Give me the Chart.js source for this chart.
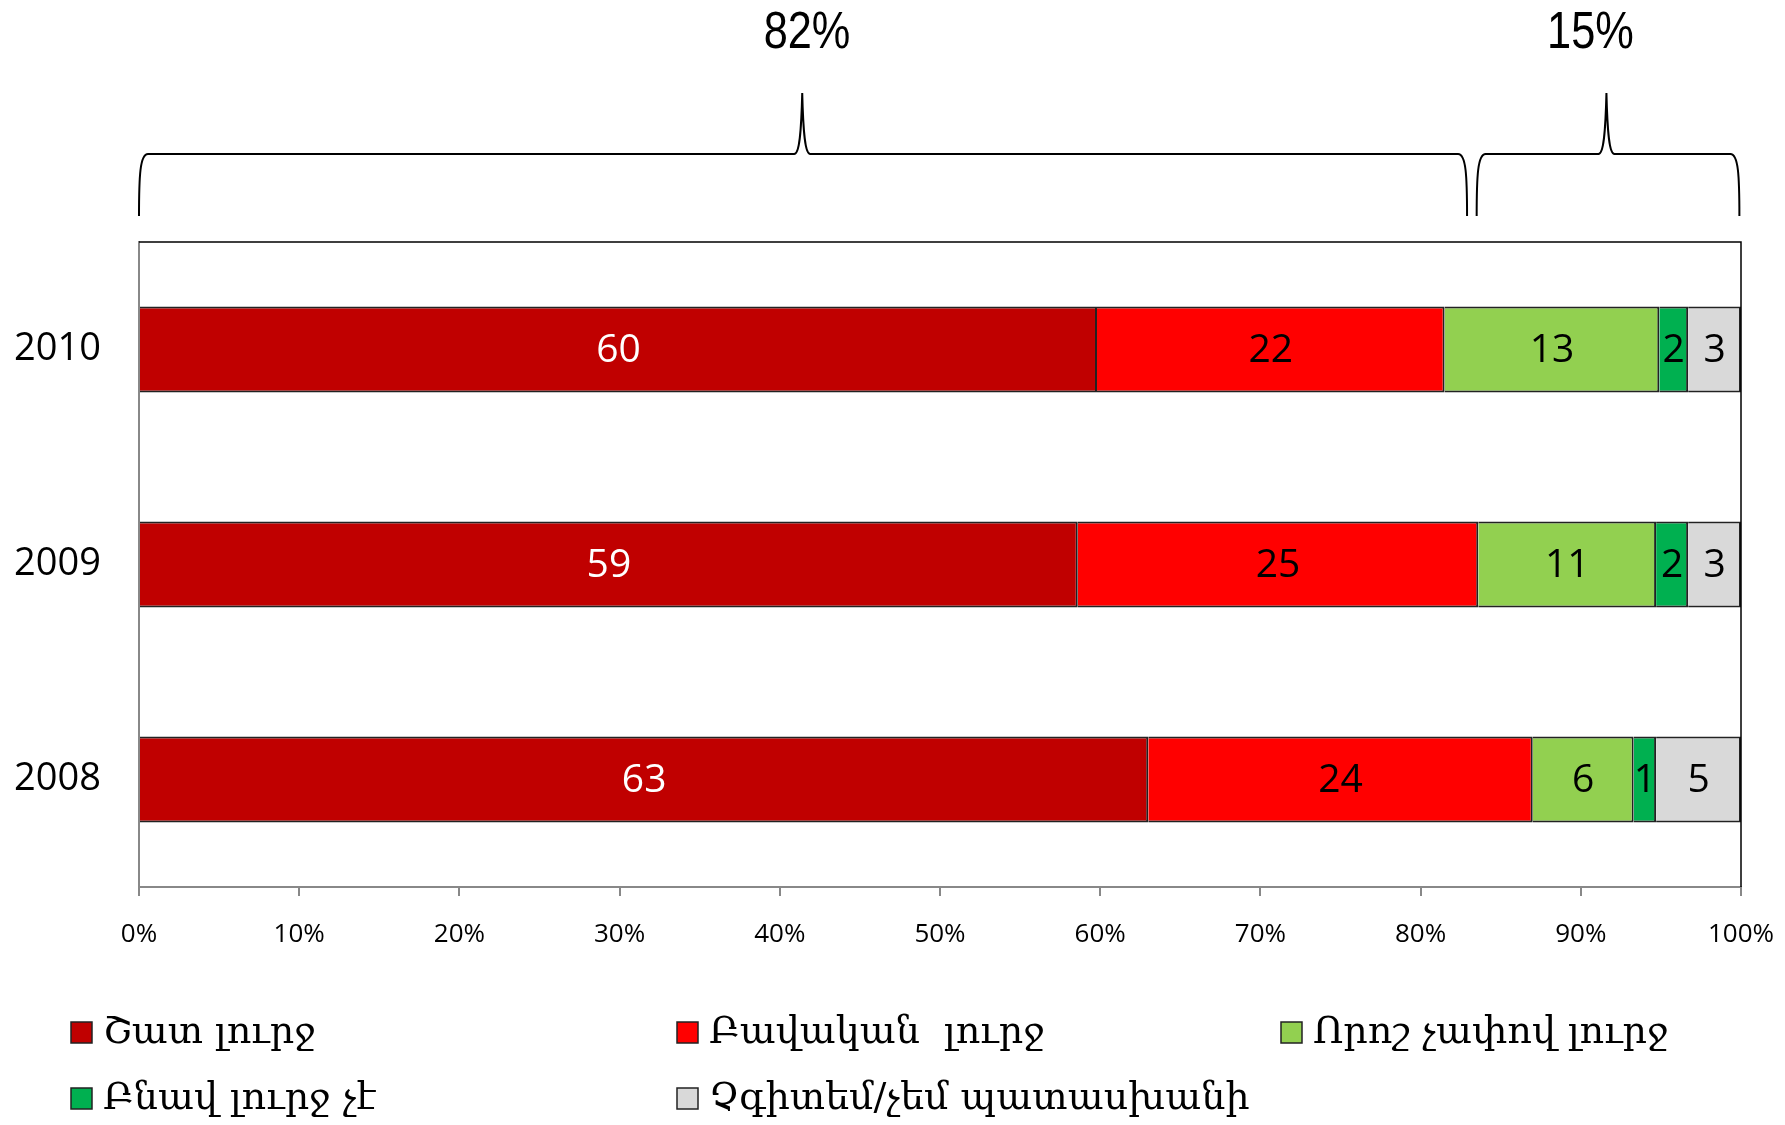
<!DOCTYPE html>
<html lang="hy">
<head>
  <meta charset="UTF-8">
  <title>Լրջություն</title>
  <script src="https://cdn.jsdelivr.net/npm/chart.js"></script>
  <style>
    body { margin: 0; background: #fff; }
    canvas { display: block; }
  </style>
</head>
<body>
  <canvas id="chart" width="1785" height="1125"></canvas>

  <script>
    const years = ["2010", "2009", "2008"];
    const seriesNames = ["Շատ լուրջ", "Բավական  լուրջ", "Որոշ չափով լուրջ", "Բնավ լուրջ չէ", "Չգիտեմ/չեմ պատասխանի"];
    const verySerious = [59.8, 58.6, 63.0];
    const quiteSerious = [21.7, 25.0, 24.0];
    const somewhatSerious = [13.4, 11.1, 6.3];
    const notSerious = [1.8, 2.0, 1.4];
    const dontKnow = [3.3, 3.3, 5.3];
    const xTicks = [0, 10, 20, 30, 40, 50, 60, 70, 80, 90, 100];

    // braces above the plot (axis units)
    const braceLabels = ["82%", "15%"];
    const braceFrom = [0, 83.5];
    const braceTo = [82.9, 99.9];
    const braceTip = [41.4, 91.6];
    const braceLabelAt = [41.7, 90.6];

    const colors = ["#C00000", "#FF0000", "#92D050", "#00B050", "#D9D9D9"];
    const labelColors = ["#fff", "#000", "#000", "#000", "#000"];
    const values = [verySerious, quiteSerious, somewhatSerious, notSerious, dontKnow];

    const sans = "'Open Sans', 'Noto Sans', sans-serif";

    const extras = {
      id: "extras",
      afterDatasetsDraw(chart) {
        const ctx = chart.ctx;
        const a = chart.chartArea;
        const xs = chart.scales.x;

        // top and right frame
        ctx.save();
        ctx.strokeStyle = "#000";
        ctx.lineWidth = 1.5;
        ctx.beginPath();
        ctx.moveTo(a.left, a.top);
        ctx.lineTo(a.right, a.top);
        ctx.lineTo(a.right, a.bottom);
        ctx.stroke();

        // value labels
        ctx.font = "39px " + sans;
        ctx.textAlign = "center";
        ctx.textBaseline = "middle";
        chart.data.datasets.forEach((ds, i) => {
          chart.getDatasetMeta(i).data.forEach((bar, j) => {
            ctx.fillStyle = labelColors[i];
            ctx.fillText(Math.round(ds.data[j]), (bar.x + bar.base) / 2, bar.y + 1);
          });
        });

        // braces
        const yB = 216, yH = 154, yT = 93;
        ctx.lineWidth = 2;
        ctx.strokeStyle = "#000";
        braceLabels.forEach((lab, k) => {
          const x1 = xs.getPixelForValue(braceFrom[k]);
          const x2 = xs.getPixelForValue(braceTo[k]);
          const xm = xs.getPixelForValue(braceTip[k]);
          ctx.beginPath();
          ctx.moveTo(x1, yB);
          ctx.bezierCurveTo(x1, yB - 40, x1 + 1, yH, x1 + 9, yH);
          ctx.lineTo(xm - 8, yH);
          ctx.bezierCurveTo(xm - 3, yH, xm - 1, yH - 20, xm, yT);
          ctx.bezierCurveTo(xm + 1, yH - 20, xm + 3, yH, xm + 8, yH);
          ctx.lineTo(x2 - 9, yH);
          ctx.bezierCurveTo(x2 - 1, yH, x2, yB - 40, x2, yB);
          ctx.stroke();
          // narrow-looking label
          ctx.save();
          ctx.translate(xs.getPixelForValue(braceLabelAt[k]), 34);
          ctx.scale(0.85, 1);
          ctx.fillStyle = "#000";
          ctx.font = "51px 'Liberation Sans', sans-serif";
          ctx.textAlign = "center";
          ctx.textBaseline = "middle";
          ctx.fillText(lab, 0, 0);
          ctx.restore();
        });

        // legend
        const colX = [71, 677, 1281];
        const rowY = [1033, 1099];
        ctx.font = "38px 'DejaVu Serif', serif";
        ctx.textAlign = "left";
        ctx.textBaseline = "middle";
        chart.data.datasets.forEach((ds, i) => {
          const x = colX[i % 3], y = rowY[Math.floor(i / 3)];
          ctx.fillStyle = ds.backgroundColor;
          ctx.fillRect(x, y - 11, 21, 21);
          ctx.strokeStyle = "#222";
          ctx.lineWidth = 1.5;
          ctx.strokeRect(x, y - 11, 21, 21);
          ctx.fillStyle = "#000";
          ctx.fillText(ds.label, x + 32, y);
        });
        ctx.restore();
      }
    };

    new Chart(document.getElementById("chart"), {
      type: "bar",
      data: {
        labels: years,
        datasets: seriesNames.map((name, i) => ({
          label: name,
          data: values[i],
          backgroundColor: colors[i],
          borderColor: "#222",
          borderWidth: 2,
          barPercentage: 0.4,
          categoryPercentage: 1
        }))
      },
      options: {
        indexAxis: "y",
        responsive: false,
        animation: false,
        layout: { padding: { top: 242, right: 44, left: 0, bottom: 0 } },
        plugins: { legend: { display: false }, tooltip: { enabled: false } },
        scales: {
          x: {
            stacked: true, min: 0, max: 100,
            afterBuildTicks: s => { s.ticks = xTicks.map(v => ({ value: v })); },
            afterFit: s => { s.height = 238; s.paddingLeft = 0; s.paddingRight = 0; },
            ticks: { callback: v => v + "%", color: "#000", font: { size: 26, family: sans }, padding: 23, maxRotation: 0 },
            grid: { drawOnChartArea: false, color: "#888", tickLength: 9, lineWidth: 2 },
            border: { color: "#888", width: 2 }
          },
          y: {
            stacked: true,
            afterFit: s => { s.width = 139; },
            ticks: { color: "#000", font: { size: 38, family: sans }, padding: 30 },
            grid: { display: false },
            border: { color: "#888", width: 2 }
          }
        }
      },
      plugins: [extras]
    });
  </script>
</body>
</html>
